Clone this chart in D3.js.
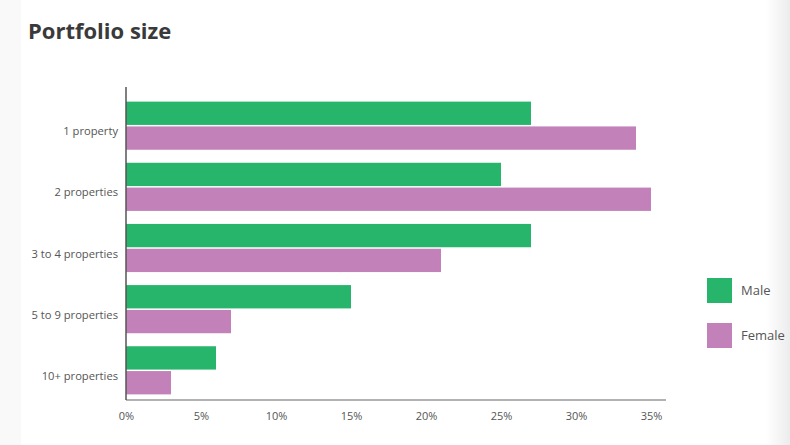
<!DOCTYPE html>
<html><head><meta charset="utf-8">
<script src="https://cdn.jsdelivr.net/npm/d3@7"></script>
<style>
html,body{margin:0;padding:0;background:#fff;}
svg{display:block;}
</style></head>
<body>
<svg id="chart" width="790" height="445"></svg>
<script>
const categories = ["1 property","2 properties","3 to 4 properties","5 to 9 properties","10+ properties"];
const seriesNames = ["Male","Female"];
const maleValues = [27,25,27,15,6];
const femaleValues = [34,35,21,7,3];
const xTicks = [0,5,10,15,20,25,30,35];
const colors = ["#26b56a","#c281b8"];

const svg = d3.select("#chart");
const defs = svg.append("defs");
const gradR = defs.append("linearGradient").attr("id","gr").attr("x1","0").attr("x2","1");
gradR.append("stop").attr("offset","0").attr("stop-color","#ffffff");
gradR.append("stop").attr("offset","1").attr("stop-color","#ececec");
svg.append("rect").attr("x",0).attr("y",0).attr("width",21).attr("height",445).attr("fill","#f9f9f9");
svg.append("rect").attr("x",766).attr("y",0).attr("width",24).attr("height",445).attr("fill","url(#gr)");

svg.append("text").attr("x",28).attr("y",39)
  .attr("font-family","'Open Sans', sans-serif").attr("font-weight","bold")
  .attr("font-size",22).attr("fill","#3a3a3a").text("Portfolio size");

const x = d3.scaleLinear().domain([0,35]).range([126,651]);
const y = d3.scaleBand().domain(categories).range([95.5,400.5]).paddingInner(0.213).paddingOuter(0.1);
const sub = d3.scaleBand().domain(seriesNames).range([0,y.bandwidth()]).paddingInner(0.06);

const data = categories.map((c,i)=>({cat:c, vals:[maleValues[i],femaleValues[i]]}));
const g = svg.append("g");
data.forEach(d=>{
  d.vals.forEach((v,j)=>{
    g.append("rect").attr("x",x(0)).attr("y",y(d.cat)+sub(seriesNames[j]))
      .attr("width",x(v)-x(0)).attr("height",sub.bandwidth()).attr("fill",colors[j]);
  });
});

// axes
const xAxis = d3.axisBottom(x).tickValues(xTicks).tickFormat(d=>d+"%").tickSize(0).tickPadding(12);
const xg = svg.append("g").attr("transform","translate(0,400)").call(xAxis);
xg.select(".domain").remove();
xg.selectAll("text").attr("font-family","'Open Sans', sans-serif").attr("font-size",11).attr("fill","#555");
svg.append("line").attr("x1",126).attr("x2",666).attr("y1",400).attr("y2",400).attr("stroke","#666").attr("stroke-width",1.2);
svg.append("line").attr("x1",126).attr("x2",126).attr("y1",87).attr("y2",400).attr("stroke","#555").attr("stroke-width",1.5);

const yg = svg.append("g");
categories.forEach(c=>{
  yg.append("text").attr("x",118).attr("y",y(c)+y.bandwidth()/2+6.5)
    .attr("text-anchor","end").attr("dominant-baseline","middle")
    .attr("font-family","'Open Sans', sans-serif").attr("font-size",11.2).attr("fill","#555").text(c);
});

// legend
const lg = svg.append("g");
seriesNames.forEach((s,i)=>{
  lg.append("rect").attr("x",707).attr("y",278+i*45).attr("width",25).attr("height",25).attr("fill",colors[i]);
  lg.append("text").attr("x",741).attr("y",292+i*45).attr("dominant-baseline","middle")
    .attr("font-family","'Open Sans', sans-serif").attr("font-size",13).attr("fill","#555").text(s);
});
</script>
</body></html>
